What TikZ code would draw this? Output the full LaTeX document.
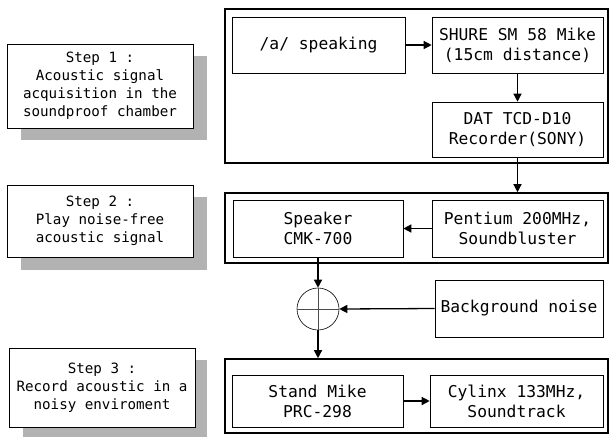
\documentclass[tikz,border=0pt]{standalone}
\usepackage{fontspec}
\setmainfont{DejaVu Sans Mono}
\usetikzlibrary{arrows.meta}
\begin{document}
\begin{tikzpicture}[x=1pt,y=-1pt,
  outerbox/.style={draw, line width=1.6pt},
  blk/.style={draw, line width=0.6pt, align=center, inner sep=0pt,
    font=\fontsize{16.3}{20}\selectfont},
  stepbox/.style={draw, line width=0.8pt, fill=white, align=center, inner sep=0pt,
    font=\fontsize{14.2}{18}\selectfont},
  shadowbox/.style={fill=black!30},
  arr/.style={line width=1.3pt, -{Triangle[length=8pt,width=8pt]}}]
\useasboundingbox (0,0) rectangle (609,437);
% step boxes with shadows
\fill[shadowbox] (21,56) rectangle (207,140);
\node[stepbox, minimum width=186pt, minimum height=84pt] (s1) at (100,86)
  {Step 1 :\\Acoustic signal\\acquisition in the\\soundproof chamber};
\fill[shadowbox] (21,197) rectangle (207,270);
\node[stepbox, minimum width=186pt, minimum height=72pt] (s2) at (100,221)
  {Step 2 :\\Play noise-free\\acoustic signal};
\fill[shadowbox] (23,360) rectangle (207,437);
\node[stepbox, minimum width=186pt, minimum height=79pt] (s3) at (102,387.5)
  {Step 3 :\\Record acoustic in a\\noisy enviroment};
% outer boxes
\node[outerbox, minimum width=383pt, minimum height=154pt, inner sep=0pt] (b1) at (416.5,86) {};
\node[outerbox, minimum width=383pt, minimum height=70pt, inner sep=0pt] (b2) at (416.5,228) {};
\node[outerbox, minimum width=383pt, minimum height=74pt, inner sep=0pt] (b3) at (416.5,396) {};
% inner blocks
\node[blk, minimum width=173pt, minimum height=56pt] (speak) at (318.5,45) {/a/ speaking};
\node[blk, minimum width=171pt, minimum height=56pt] (shure) at (517.5,45) {SHURE SM 58 Mike\\(15cm distance)};
\node[blk, minimum width=171pt, minimum height=55pt] (dat) at (517.5,129.5) {DAT TCD-D10\\Recorder(SONY)};
\node[blk, minimum width=170pt, minimum height=57pt] (speaker) at (318,228.5) {Speaker\\CMK-700};
\node[blk, minimum width=171pt, minimum height=57pt] (pent) at (517.5,228.5) {Pentium 200MHz,\\Soundbluster};
\node[blk, minimum width=168pt, minimum height=57pt] (noise) at (519,308.5) {Background noise};
\node[blk, minimum width=171pt, minimum height=52pt] (stand) at (317.5,401) {Stand Mike\\PRC-298};
\node[blk, minimum width=173pt, minimum height=52pt] (cyl) at (516.5,401) {Cylinx 133MHz,\\Soundtrack};
% summing circle
\node[draw, circle, line width=0.6pt, minimum size=42pt, inner sep=0pt] (circ) at (318,309) {};
\draw[line width=0.5pt, black!70] (circ.west) -- (circ.east);
\draw[line width=0.5pt, black!70] (circ.north) -- (circ.south);
% connectors
\draw[arr] (speak.east) -- (shure.west);
\draw[arr] (shure.south) -- (dat.north);
\draw[arr] (dat.south) -- (dat.south |- b2.north);
\draw[arr] (pent.west) -- (speaker.east);
\draw[arr] (speaker.south) -- (circ.north);
\draw[arr] (noise.west) -- (circ.east);
\draw[arr] (circ.south) -- (circ.south |- b3.north);
\draw[arr] (stand.east) -- (cyl.west);
\end{tikzpicture}
\end{document}
